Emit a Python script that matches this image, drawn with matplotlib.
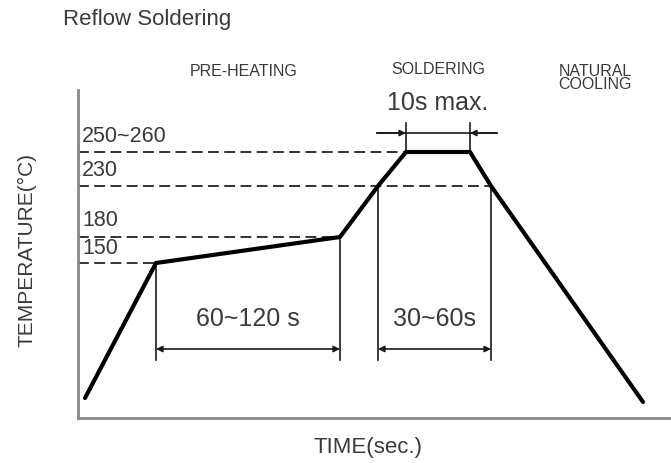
import matplotlib
matplotlib.use("Agg")
import matplotlib.pyplot as plt

# schematic reflow profile, drawing units (not to scale, as in the original sketch)
profile_x = [7, 78, 262, 300, 328, 392, 413, 565]
profile_y = [20, 155, 181, 232, 266, 266, 232, 16]

# temperature levels: label, height of dashed guide, x where the guide stops
temp_labels = ["150", "180", "230", "250~260"]
temp_levels = [155, 181, 232, 266]
temp_guide_end = [78, 262, 413, 328]
temp_label_y = [170, 198, 247, 281]

phase_labels = ["PRE-HEATING", "SOLDERING", "NATURAL\nCOOLING"]
phase_x = [166, 360, 517]
phase_y = [347, 348, 340]

# time spans: label, start x, end x, start height
span_labels = ["60~120 s", "30~60s"]
span_start = [78, 300]
span_end = [262, 413]
span_top = [[155, 181], [232, 232]]
peak_label = "10s max."

plt.rcParams["font.family"] = ["Liberation Sans", "DejaVu Sans"]
text_c = "#3a3a3a"
dim_c = "#1a1a1a"

fig = plt.figure(figsize=(6.71, 4.63), dpi=100)
ax = fig.add_axes([78 / 671, 45 / 463, 593 / 671, 328 / 463])
ax.set_xlim(0, 593)
ax.set_ylim(0, 328)
ax.set_xticks([])
ax.set_yticks([])
for s in ["top", "right"]:
    ax.spines[s].set_visible(False)
for s in ["left", "bottom"]:
    ax.spines[s].set_color("#888888")
    ax.spines[s].set_linewidth(2)

# dashed temperature guides
for lab, lev, xe, ly in zip(temp_labels, temp_levels, temp_guide_end, temp_label_y):
    ax.plot([0, xe], [lev, lev], color="#222222", lw=1.3, ls=(0, (6, 3)))
    ax.text(4, ly, lab, fontsize=15.5, color=text_c, va="center", ha="left")

# profile
ax.plot(profile_x, profile_y, color="black", lw=3, solid_joinstyle="miter",
        solid_capstyle="round", zorder=5)

# time span dimension lines
dim_y = 69
ext_bottom = 58
for lab, x0, x1, tops in zip(span_labels, span_start, span_end, span_top):
    ax.plot([x0, x0], [ext_bottom, tops[0]], color=dim_c, lw=1.2)
    ax.plot([x1, x1], [ext_bottom, tops[1]], color=dim_c, lw=1.2)
    ax.annotate("", xy=(x0, dim_y), xytext=(x1, dim_y),
                arrowprops=dict(arrowstyle="<|-|>", color=dim_c, lw=1.2,
                                mutation_scale=9, shrinkA=0, shrinkB=0))
    ax.text((x0 + x1) / 2, 99, lab, fontsize=18, color=text_c,
            ha="center", va="center")

# peak time (outside arrows)
pk0, pk1 = profile_x[4], profile_x[5]
pk_y = 285
ax.plot([pk0, pk0], [profile_y[4], 295], color=dim_c, lw=1.2)
ax.plot([pk1, pk1], [profile_y[5], 295], color=dim_c, lw=1.2)
ax.plot([pk0 - 29, pk1 + 27], [pk_y, pk_y], color=dim_c, lw=1.2)
ax.annotate("", xy=(pk0, pk_y), xytext=(pk0 - 29, pk_y),
            arrowprops=dict(arrowstyle="-|>", color=dim_c, lw=1.2,
                            mutation_scale=9, shrinkA=0, shrinkB=0))
ax.annotate("", xy=(pk1, pk_y), xytext=(pk1 + 27, pk_y),
            arrowprops=dict(arrowstyle="-|>", color=dim_c, lw=1.2,
                            mutation_scale=9, shrinkA=0, shrinkB=0))
ax.text((pk0 + pk1) / 2, 315, peak_label, fontsize=18, color=text_c,
        ha="center", va="center")

# phase names
for lab, px, py in zip(phase_labels, phase_x, phase_y):
    ax.text(px, py, lab, fontsize=11.5, color=text_c,
            ha="center", va="center", linespacing=0.85, clip_on=False)

fig.text(63 / 671, 1 - 20 / 463, "Reflow Soldering", fontsize=16,
         color=text_c, ha="left", va="center")
fig.text(368 / 671, 1 - 447 / 463, "TIME(sec.)", fontsize=16,
         color=text_c, ha="center", va="center")
fig.text(27 / 671, 1 - 250 / 463, "TEMPERATURE(°C)", fontsize=15,
         color=text_c, ha="center", va="center", rotation=90)

fig.savefig("out.png", dpi=100)
